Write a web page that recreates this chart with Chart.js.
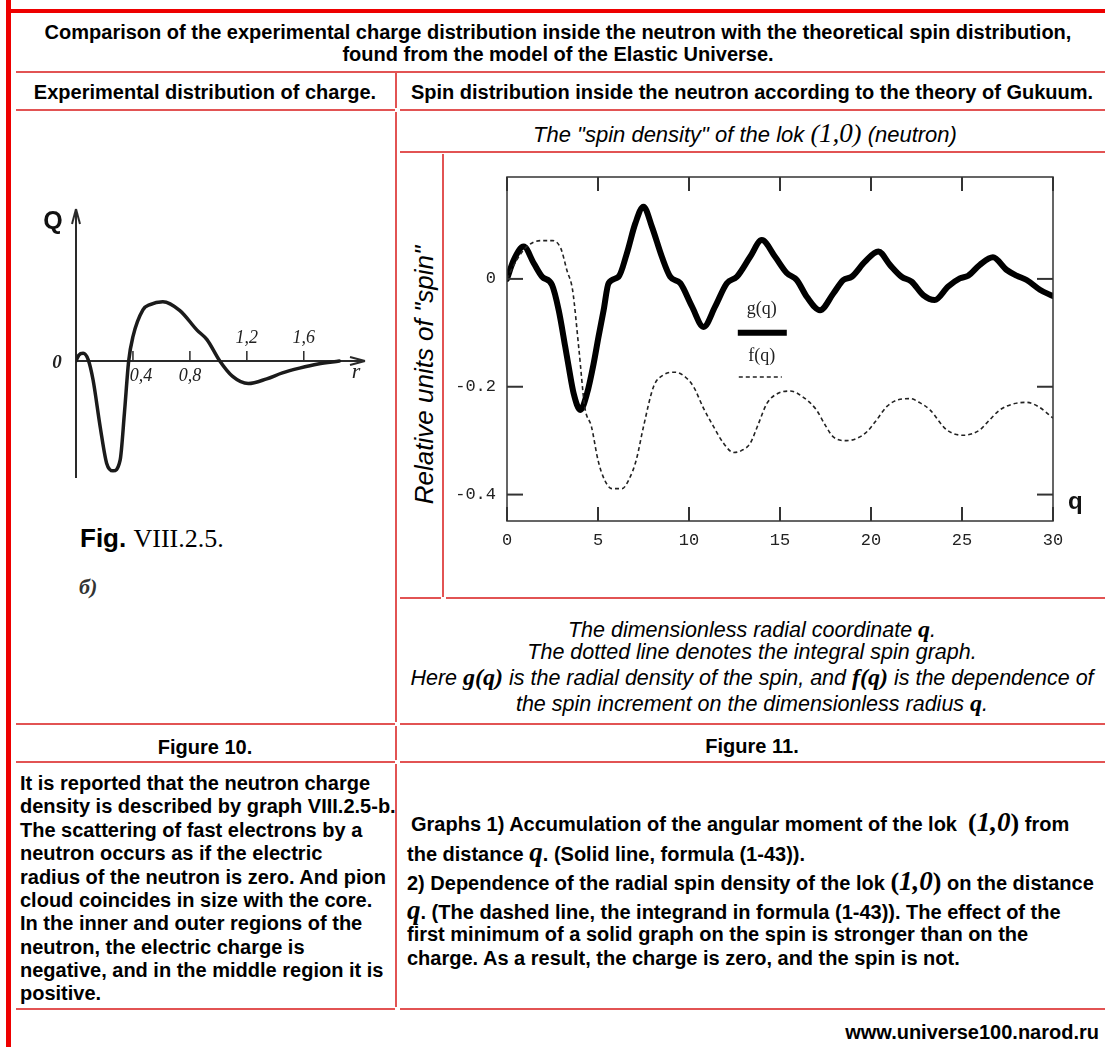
<!DOCTYPE html>
<html>
<head>
<meta charset="utf-8">
<title>Neutron charge and spin distribution</title>
<script src="https://cdn.jsdelivr.net/npm/chart.js@4.4.1/dist/chart.umd.min.js"></script>
<style>
  body { margin: 0; width: 1105px; height: 1047px; background: #fff; position: relative; overflow: hidden;
         font-family: "Liberation Sans", Arial, sans-serif; color: #000; }
  .h { position: absolute; height: 2px; background: #e25353; }
  .v { position: absolute; width: 2px; background: #e25353; }
  .t { position: absolute; white-space: nowrap; transform: translateY(-50%); }
  .c { transform: translate(-50%, -50%); }
  .b { font-weight: bold; font-size: 20px; }
  .it { font-style: italic; font-size: 22px; }
  .cap { font-style: italic; font-size: 21.5px; }
  .m { font-family: "Liberation Serif", serif; font-style: italic; font-size: 27px; }
  .mb { font-family: "Liberation Serif", serif; font-style: italic; font-weight: bold; font-size: 27px; }
  .cap .mb { font-size: 24px; }
  .p { font-family: "Liberation Serif", serif; font-size: 26px; }
  canvas { position: absolute; }
</style>
</head>
<body>
<!-- outer red frame -->
<div style="position:absolute;left:6px;top:0;width:5px;height:1047px;background:#ee0000"></div>
<div style="position:absolute;left:6px;top:9px;width:1099px;height:4px;background:#ee0000"></div>

<!-- table rules -->
<div class="h" style="left:16px;top:71px;width:1089px"></div>
<div class="h" style="left:16px;top:109px;width:379px"></div>
<div class="h" style="left:400px;top:109px;width:705px"></div>
<div class="h" style="left:400px;top:151px;width:705px"></div>
<div class="h" style="left:400px;top:597px;width:41px"></div>
<div class="h" style="left:446px;top:597px;width:659px"></div>
<div class="h" style="left:16px;top:723px;width:379px"></div>
<div class="h" style="left:400px;top:723px;width:705px"></div>
<div class="h" style="left:16px;top:761px;width:379px"></div>
<div class="h" style="left:400px;top:761px;width:705px"></div>
<div class="h" style="left:16px;top:1008px;width:379px"></div>
<div class="h" style="left:400px;top:1008px;width:705px"></div>
<div class="v" style="left:395px;top:73px;height:35px"></div>
<div class="v" style="left:395px;top:112px;height:610px"></div>
<div class="v" style="left:395px;top:726px;height:34px"></div>
<div class="v" style="left:395px;top:764px;height:243px"></div>
<div class="v" style="left:442px;top:154px;height:443px"></div>

<!-- headings -->
<div class="t c b" style="left:558px;top:32px">Comparison of the experimental charge distribution inside the neutron with the theoretical spin distribution,</div>
<div class="t c b" style="left:558px;top:54px">found from the model of the Elastic Universe.</div>
<div class="t c b" style="left:205px;top:92px">Experimental distribution of charge.</div>
<div class="t c b" style="left:752px;top:92px">Spin distribution inside the neutron according to the theory of Gukuum.</div>
<div class="t c it" style="left:745px;top:133px">The "spin density" of the lok <span class="p">(</span><span class="m">1,0</span><span class="p">)</span> (neutron)</div>

<!-- left figure captions -->
<div class="t" style="left:80px;top:538px;font-size:26px"><b>Fig.</b> <span style="font-family:'Liberation Serif',serif">VIII.2.5.</span></div>
<div class="t" style="left:79px;top:587px;font-family:'Liberation Serif',serif;font-style:italic;font-weight:bold;font-size:22px;color:#333">б)</div>

<!-- spin chart y title -->
<div class="t c" style="left:424px;top:375px;transform:translate(-50%,-50%) rotate(-90deg);font-style:italic;font-size:26px">Relative units of "spin"</div>

<!-- caption under spin chart -->
<div class="t c cap" style="left:752px;top:629px">The dimensionless radial coordinate <span class="mb">q</span>.</div>
<div class="t c cap" style="left:752px;top:652px">The dotted line denotes the integral spin graph.</div>
<div class="t c cap" style="left:752px;top:677px">Here <span class="mb">g(q)</span> is the radial density of the spin, and <span class="mb">f(q)</span> is the dependence of</div>
<div class="t c cap" style="left:752px;top:703px">the spin increment on the dimensionless radius <span class="mb">q</span>.</div>

<div class="t c b" style="left:205px;top:747px">Figure 10.</div>
<div class="t c b" style="left:752px;top:746px">Figure 11.</div>

<!-- left text -->
<div class="t b" style="left:20px;top:783px">It is reported that the neutron charge</div>
<div class="t b" style="left:20px;top:806px">density is described by graph VIII.2.5-b.</div>
<div class="t b" style="left:20px;top:830px">The scattering of fast electrons by a</div>
<div class="t b" style="left:20px;top:853px">neutron occurs as if the electric</div>
<div class="t b" style="left:20px;top:877px">radius of the neutron is zero. And pion</div>
<div class="t b" style="left:20px;top:900px">cloud coincides in size with the core.</div>
<div class="t b" style="left:20px;top:923px">In the inner and outer regions of the</div>
<div class="t b" style="left:20px;top:947px">neutron, the electric charge is</div>
<div class="t b" style="left:20px;top:970px">negative, and in the middle region it is</div>
<div class="t b" style="left:20px;top:993px">positive.</div>

<!-- right text -->
<div class="t b" style="left:411px;top:822px">Graphs 1) Accumulation of the angular moment of the lok &nbsp;<span class="p">(</span><span class="m">1,0</span><span class="p">)</span> from</div>
<div class="t b" style="left:407px;top:852px">the distance <span class="mb">q</span>. (Solid line, formula (1-43)).</div>
<div class="t b" style="left:407px;top:881px">2) Dependence of the radial spin density of the lok <span class="p">(</span><span class="m">1,0</span><span class="p">)</span> on the distance</div>
<div class="t b" style="left:407px;top:910px"><span class="mb">q</span>. (The dashed line, the integrand in formula (1-43)). The effect of the</div>
<div class="t b" style="left:407px;top:934px">first minimum of a solid graph on the spin is stronger than on the</div>
<div class="t b" style="left:407px;top:958px">charge. As a result, the charge is zero, and the spin is not.</div>

<div class="t b" style="right:6px;top:1032px">www.universe100.narod.ru</div>

<canvas id="chargeChart" width="370" height="310" style="left:20px;top:190px"></canvas>
<canvas id="spinChart" width="658" height="440" style="left:447px;top:156px"></canvas>

<script>
// Fig. VIII.2.5-b: charge density Q(r), arbitrary units
const rValues = [0, 0.02, 0.05, 0.086, 0.12, 0.17, 0.215, 0.26, 0.31, 0.34, 0.37, 0.40, 0.47, 0.52, 0.61, 0.73, 0.85, 0.92, 1.01, 1.10, 1.21, 1.34, 1.45, 1.57, 1.70, 1.85];
const qCharge = [0, 0.10, 0.13, 0.02, -0.32, -1.11, -1.72, -1.85, -1.67, -0.88, 0, 0.41, 0.86, 0.95, 1.0, 0.85, 0.52, 0.36, 0, -0.26, -0.38, -0.30, -0.20, -0.12, -0.05, 0];
const rTicks = [0.4, 0.8, 1.2, 1.6];
const rTickLabels = ['0,4', '0,8', '1,2', '1,6'];
const rLabelSide = ['below', 'below', 'above', 'above'];

// Fig. 11: g(q) solid, f(q) dashed
const gQ = [0, 0.37, 0.92, 1.47, 1.93, 2.47, 2.84, 3.2, 3.39, 3.66, 4.03, 4.40, 4.76, 5.03, 5.31, 5.58, 6.13, 6.59, 7.05, 7.5, 7.96, 8.51, 8.97, 9.52, 10.16, 10.8, 11.44, 12.08, 12.63, 13.36, 14.0, 14.73, 15.37, 15.92, 16.47, 17.2, 17.93, 18.48, 18.94, 19.67, 20.4, 21.04, 21.68, 22.23, 22.87, 23.5, 24.24, 24.88, 25.34, 25.98, 26.7, 27.44, 28.0, 28.55, 29.28, 30];
const gValues = [0, 0.035, 0.060, 0.029, 0.004, -0.011, -0.058, -0.126, -0.163, -0.212, -0.243, -0.212, -0.157, -0.107, -0.058, -0.008, 0.004, 0.048, 0.103, 0.134, 0.097, 0.041, 0.004, -0.008, -0.051, -0.089, -0.051, -0.008, 0.004, 0.041, 0.072, 0.041, 0.011, -0.002, -0.033, -0.058, -0.027, -0.002, 0.004, 0.032, 0.051, 0.026, 0.004, -0.005, -0.030, -0.039, -0.014, 0.001, 0.006, 0.026, 0.040, 0.017, 0.006, -0.002, -0.020, -0.032];
const fQ = [0, 0.45, 0.92, 1.45, 1.95, 2.5, 2.95, 3.3, 3.6, 3.95, 4.27, 4.64, 5.0, 5.35, 5.77, 6.32, 6.7, 7.1, 7.5, 8.05, 8.6, 9.24, 9.8, 10.25, 10.8, 11.35, 11.9, 12.45, 12.9, 13.36, 13.8, 14.28, 14.9, 15.56, 16.3, 17.0, 17.5, 17.93, 18.66, 19.2, 19.76, 20.3, 20.86, 21.5, 22.14, 22.7, 23.24, 24.16, 25.07, 25.98, 26.5, 27.08, 27.8, 28.55, 29.2, 30];
const fValues = [0, 0.030, 0.054, 0.068, 0.071, 0.071, 0.057, 0.015, -0.02, -0.13, -0.237, -0.274, -0.336, -0.372, -0.389, -0.389, -0.372, -0.336, -0.274, -0.2, -0.178, -0.173, -0.182, -0.2, -0.24, -0.274, -0.305, -0.322, -0.318, -0.305, -0.27, -0.231, -0.212, -0.208, -0.22, -0.243, -0.272, -0.293, -0.300, -0.296, -0.284, -0.262, -0.237, -0.224, -0.222, -0.23, -0.243, -0.280, -0.290, -0.280, -0.262, -0.243, -0.232, -0.229, -0.237, -0.258];
const qTicks = [0, 5, 10, 15, 20, 25, 30];
const spinTicks = [-0.4, -0.2, 0];
const spinTickLabels = ['-0.4', '-0.2', '0'];
const legendNames = ['g(q)', 'f(q)'];

function seg(ctx, x1, y1, x2, y2) {
    ctx.beginPath();
    ctx.moveTo(x1, y1);
    ctx.lineTo(x2, y2);
    ctx.stroke();
}

// axes with arrows, drawn from the chart's own scales
const chargeAxes = {
    id: 'chargeAxes',
    beforeDatasetsDraw(chart) {
        const { ctx, chartArea: a, scales: { x, y } } = chart;
        const x0 = x.getPixelForValue(0), y0 = y.getPixelForValue(0);
        ctx.save();
        ctx.strokeStyle = '#2a2a2a';
        ctx.lineWidth = 2;
        seg(ctx, x0, a.bottom, x0, a.top);
        seg(ctx, x0, a.top, x0 - 4, a.top + 15);
        seg(ctx, x0, a.top, x0 + 4, a.top + 15);
        seg(ctx, x0, y0, a.right, y0);
        seg(ctx, a.right, y0, a.right - 15, y0 - 4);
        seg(ctx, a.right, y0, a.right - 15, y0 + 4);

        ctx.fillStyle = '#222';
        ctx.textAlign = 'center';
        ctx.textBaseline = 'middle';
        ctx.font = 'italic 18px "Liberation Serif", serif';
        rTicks.forEach((v, i) => {
            const px = x.getPixelForValue(v);
            ctx.lineWidth = 1.5;
            seg(ctx, px, y0, px, y0 - 10);
            const below = rLabelSide[i] === 'below';
            ctx.fillText(rTickLabels[i], below && i === 0 ? px + 8 : px, below ? y0 + 15 : y0 - 23);
        });
        ctx.font = 'italic bold 19px "Liberation Serif", serif';
        ctx.fillText('0', x0 - 19, y0 + 2);
        ctx.font = 'italic 22px "Liberation Serif", serif';
        ctx.fillText('r', a.right - 9, y0 + 11);
        ctx.font = 'bold 25px "Liberation Sans", sans-serif';
        ctx.fillStyle = '#111';
        ctx.fillText('Q', x0 - 23, a.top + 13);
        ctx.restore();
    }
};

new Chart(document.getElementById('chargeChart'), {
    type: 'line',
    data: {
        datasets: [{
            data: rValues.map((r, i) => ({ x: r, y: qCharge[i] })),
            borderColor: '#1b1b1b',
            borderWidth: 3.5,
            pointRadius: 0,
            cubicInterpolationMode: 'monotone',
            borderJoinStyle: 'round',
            borderCapStyle: 'round'
        }]
    },
    options: {
        responsive: false,
        animation: false,
        events: [],
        layout: { padding: { left: 56, right: 25, top: 19, bottom: 22 } },
        plugins: { legend: { display: false }, tooltip: { enabled: false } },
        scales: {
            x: { type: 'linear', min: 0, max: 2.03, display: false },
            y: { min: -1.97, max: 2.56, display: false }
        }
    },
    plugins: [chargeAxes]
});

// box, inward ticks, q label and legend for the spin chart
const spinFrame = {
    id: 'spinFrame',
    afterDatasetsDraw(chart) {
        const { ctx, chartArea: a, scales: { x, y } } = chart;
        ctx.save();
        ctx.strokeStyle = '#333';
        ctx.lineWidth = 1.5;
        ctx.strokeRect(a.left, a.top, a.right - a.left, a.bottom - a.top);
        ctx.lineWidth = 2;
        qTicks.forEach(v => {
            const px = x.getPixelForValue(v);
            seg(ctx, px, a.bottom, px, a.bottom - 14);
            seg(ctx, px, a.top, px, a.top + 14);
        });
        spinTicks.forEach(v => {
            const py = y.getPixelForValue(v);
            seg(ctx, a.left, py, a.left + 16, py);
            seg(ctx, a.right - 16, py, a.right, py);
        });
        ctx.fillStyle = '#111';
        ctx.textAlign = 'left';
        ctx.textBaseline = 'middle';
        ctx.font = 'bold 24px "Liberation Sans", sans-serif';
        ctx.fillText('q', a.right + 15, a.bottom - 19);

        // legend
        const lx = x.getPixelForValue(14.0);
        ctx.font = '18px "Liberation Serif", serif';
        ctx.textAlign = 'center';
        ctx.fillStyle = '#222';
        ctx.fillText(legendNames[0], lx, y.getPixelForValue(-0.056));
        ctx.fillText(legendNames[1], lx, y.getPixelForValue(-0.143));
        ctx.strokeStyle = '#000';
        ctx.lineWidth = 6;
        seg(ctx, lx - 24, y.getPixelForValue(-0.100), lx + 25, y.getPixelForValue(-0.100));
        ctx.lineWidth = 1.6;
        ctx.setLineDash([4, 3]);
        ctx.strokeStyle = '#222';
        seg(ctx, lx - 23, y.getPixelForValue(-0.182), lx + 20, y.getPixelForValue(-0.182));
        ctx.restore();
    }
};

new Chart(document.getElementById('spinChart'), {
    type: 'line',
    data: {
        datasets: [
            {
                label: legendNames[1],
                data: fQ.map((q, i) => ({ x: q, y: fValues[i] })),
                borderColor: '#222',
                borderWidth: 1.6,
                borderDash: [4, 3],
                pointRadius: 0,
                cubicInterpolationMode: 'monotone'
            },
            {
                label: legendNames[0],
                data: gQ.map((q, i) => ({ x: q, y: gValues[i] })),
                borderColor: '#000',
                borderWidth: 6,
                pointRadius: 0,
                cubicInterpolationMode: 'monotone',
                borderJoinStyle: 'round',
                borderCapStyle: 'round'
            }
        ]
    },
    options: {
        responsive: false,
        animation: false,
        events: [],
        layout: { padding: { left: 0, right: 52, top: 21, bottom: 0 } },
        plugins: { legend: { display: false }, tooltip: { enabled: false } },
        scales: {
            x: {
                type: 'linear', min: 0, max: 30,
                afterFit: s => { s.height = 75; },
                afterBuildTicks: s => { s.ticks = qTicks.map(v => ({ value: v })); },
                grid: { display: false },
                border: { display: false },
                ticks: { color: '#222', padding: 1, maxRotation: 0,
                         font: { family: '"Liberation Mono", monospace', size: 17 } }
            },
            y: {
                min: -0.449, max: 0.189,
                afterFit: s => { s.width = 60; },
                afterBuildTicks: s => { s.ticks = spinTicks.map(v => ({ value: v })); },
                grid: { display: false },
                border: { display: false },
                ticks: { color: '#222', padding: 3,
                         callback: (v, i) => spinTickLabels[i],
                         font: { family: '"Liberation Mono", monospace', size: 17 } }
            }
        }
    },
    plugins: [spinFrame]
});
</script>
</body>
</html>
